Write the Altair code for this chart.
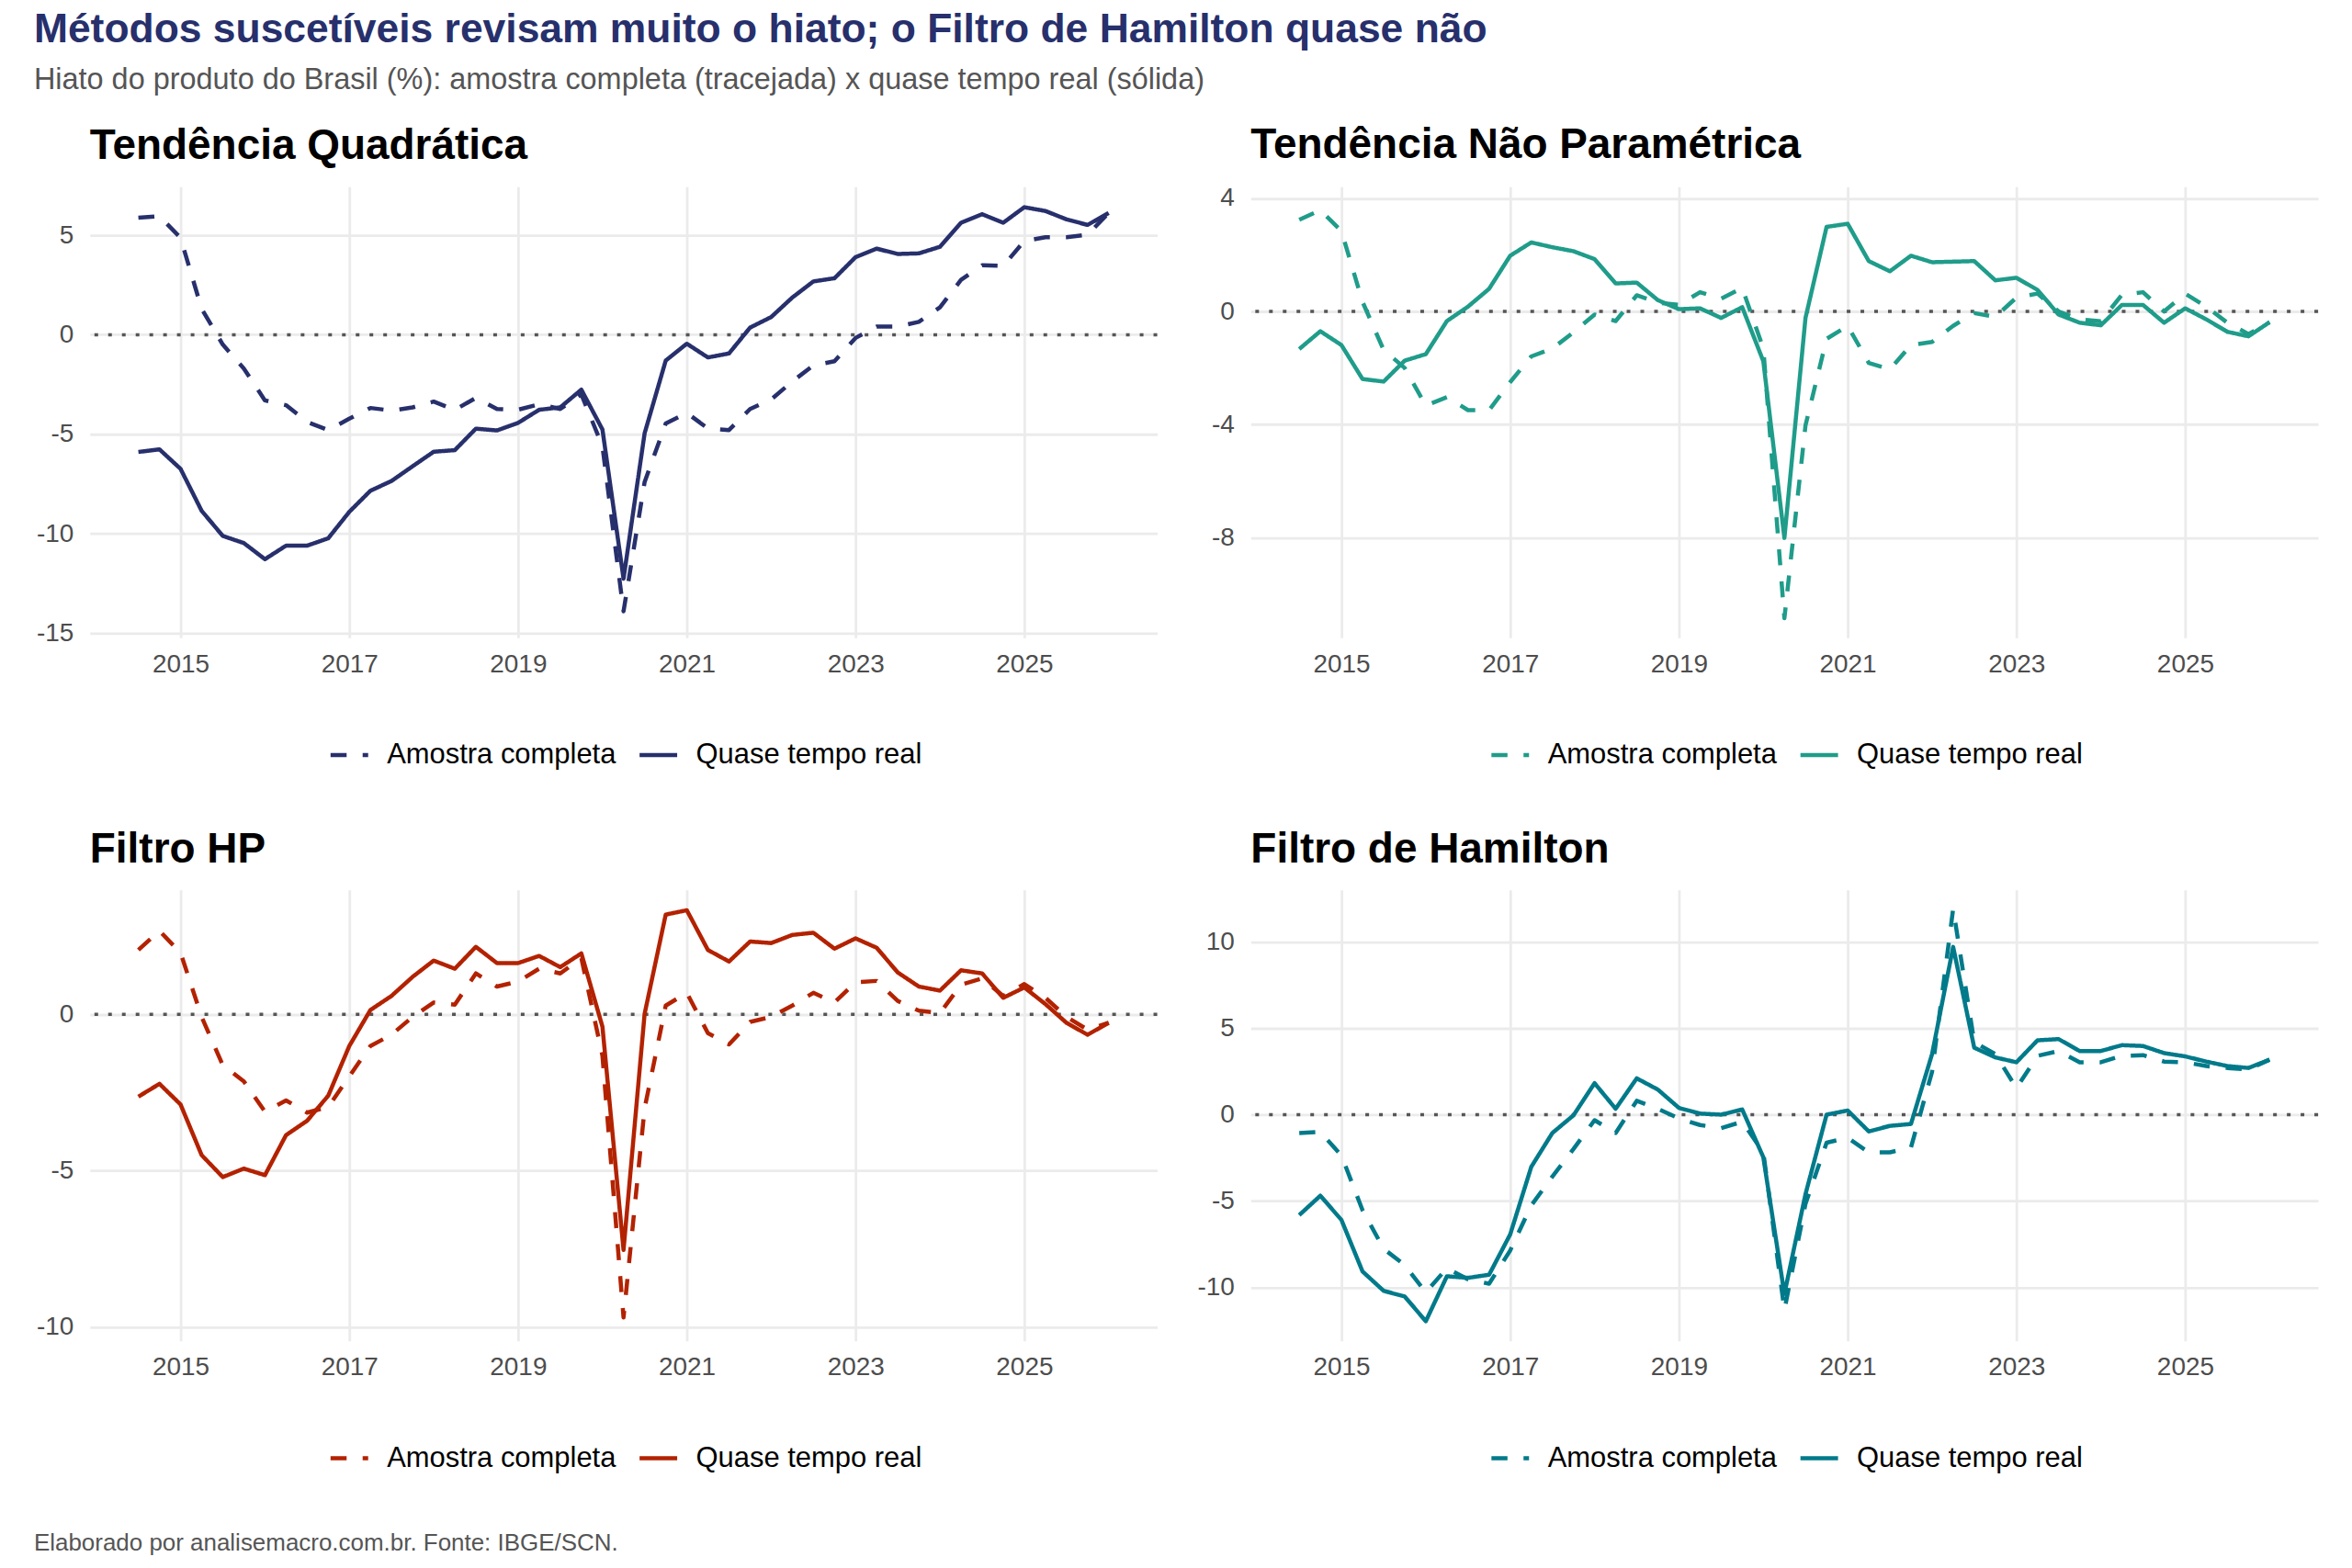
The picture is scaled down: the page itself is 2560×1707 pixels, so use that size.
import altair as alt
import pandas as pd

FONT = "Liberation Sans"
NAVY = "#27306c"

TITULO = "Métodos suscetíveis revisam muito o hiato; o Filtro de Hamilton quase não"
SUBTITULO = "Hiato do produto do Brasil (%): amostra completa (tracejada) x quase tempo real (sólida)"
RODAPE = "Elaborado por analisemacro.com.br. Fonte: IBGE/SCN."

# quarters 2014T3 .. 2026T1
trimestres = [f"{y}-T{q}" for y in range(2014, 2027) for q in range(1, 5)][2:49]
t = [int(s[:4]) + (int(s[-1]) - 1) / 4 for s in trimestres]

# Tendência Quadrática
quad_real = [-5.89, -5.76, -6.74, -8.85, -10.11, -10.47, -11.28, -10.6, -10.6, -10.23, -8.9, -7.84,
             -7.35, -6.61, -5.88, -5.80, -4.72, -4.81, -4.43, -3.77, -3.65, -2.76, -4.76, -12.26,
             -4.95, -1.30, -0.45, -1.14, -0.94, 0.36, 0.89, 1.87, 2.68, 2.84, 3.9, 4.33,
             4.06, 4.09, 4.42, 5.63, 6.06, 5.63, 6.41, 6.22, 5.80, 5.52, 6.12]
quad_comp = [5.88, 5.96, 4.87, 1.3, -0.49, -1.7, -3.3, -3.54, -4.38, -4.79, -4.22, -3.68,
             -3.81, -3.65, -3.36, -3.78, -3.17, -3.73, -3.77, -3.49, -3.73, -3.0, -5.6, -13.9,
             -7.4, -4.46, -3.93, -4.71, -4.79, -3.73, -3.25, -2.35, -1.54, -1.33, -0.16, 0.41,
             0.41, 0.65, 1.38, 2.76, 3.49, 3.46, 4.71, 4.90, 4.90, 5.03, 6.12]

# Tendência Não Paramétrica
np_real = [-1.33, -0.70, -1.19, -2.39, -2.48, -1.74, -1.51, -0.34, 0.17, 0.80, 1.97, 2.44,
           2.27, 2.13, 1.85, 0.99, 1.02, 0.40, 0.08, 0.11, -0.23, 0.15, -1.76, -8.01,
           -0.23, 2.99, 3.10, 1.78, 1.42, 1.97, 1.74, 1.76, 1.78, 1.10, 1.19, 0.76,
           -0.11, -0.40, -0.49, 0.23, 0.23, -0.40, 0.11, -0.28, -0.72, -0.88, -0.38]
np_comp = [3.24, 3.58, 2.84, 0.34, -1.36, -2.0, -3.33, -3.03, -3.49, -3.49, -2.5, -1.59,
           -1.31, -0.74, -0.11, -0.34, 0.57, 0.31, 0.23, 0.68, 0.45, 0.83, -1.31, -10.85,
           -4.03, -0.97, -0.51, -1.82, -2.05, -1.19, -1.08, -0.51, -0.06, -0.19, 0.49, 0.63,
           0.0, -0.28, -0.35, 0.59, 0.68, 0.0, 0.63, 0.17, -0.40, -0.80, -0.38]

# Filtro HP
hp_real = [-2.63, -2.22, -2.88, -4.50, -5.20, -4.93, -5.14, -3.86, -3.40, -2.60, -1.01, 0.14,
           0.59, 1.20, 1.72, 1.46, 2.16, 1.64, 1.64, 1.87, 1.51, 1.95, -0.39, -7.53,
           0.02, 3.19, 3.33, 2.06, 1.69, 2.33, 2.28, 2.54, 2.61, 2.10, 2.43, 2.13,
           1.34, 0.89, 0.76, 1.41, 1.31, 0.53, 0.86, 0.33, -0.27, -0.65, -0.27]
hp_comp = [2.06, 2.67, 1.97, -0.08, -1.62, -2.14, -3.11, -2.75, -3.14, -2.96, -1.98, -1.01,
           -0.65, -0.08, 0.38, 0.31, 1.31, 0.89, 1.05, 1.46, 1.31, 1.8, -1.32, -9.69,
           -3.0, 0.28, 0.69, -0.60, -0.96, -0.24, -0.08, 0.28, 0.69, 0.38, 1.03, 1.07,
           0.43, 0.12, 0.04, 0.95, 1.15, 0.59, 0.97, 0.53, -0.08, -0.49, -0.27]

# Filtro de Hamilton
ham_real = [-5.81, -4.69, -6.09, -9.07, -10.19, -10.52, -11.95, -9.35, -9.44, -9.26, -6.93, -3.02,
            -1.06, -0.04, 1.82, 0.34, 2.10, 1.45, 0.39, 0.06, 0.0, 0.30, -2.46, -10.37,
            -4.6, 0.0, 0.24, -0.97, -0.65, -0.54, 3.50, 9.70, 3.87, 3.31, 3.03, 4.30,
            4.37, 3.68, 3.68, 4.02, 3.97, 3.56, 3.37, 3.07, 2.81, 2.70, 3.18]
ham_comp = [-1.06, -1.0, -2.36, -5.53, -7.76, -8.70, -10.28, -8.88, -9.53, -9.78, -7.86, -5.25,
            -3.58, -1.99, -0.32, -1.06, 0.80, 0.34, -0.22, -0.60, -0.78, -0.41, -2.18, -11.3,
            -5.16, -1.62, -1.34, -2.18, -2.18, -1.90, 2.48, 11.9, 4.2, 3.5, 1.54, 3.40,
            3.68, 3.03, 3.03, 3.40, 3.44, 3.07, 3.03, 2.81, 2.70, 2.62, 3.18]

SERIES = ["Amostra completa", "Quase tempo real"]
W, H = 1164, 492
XDOM = [2013.925, 2026.575]
XTICKS = [2015, 2017, 2019, 2021, 2023, 2025]
LW = 4.5


def painel(titulo, cor, real, comp, yticks, ydom):
    df = pd.DataFrame({
        "t": t + t,
        "v": comp + real,
        "serie": [SERIES[0]] * len(t) + [SERIES[1]] * len(t),
    })
    x = alt.X("t:Q", title=None,
              scale=alt.Scale(domain=XDOM, nice=False, zero=False),
              axis=alt.Axis(values=XTICKS, format="d", labelPadding=15))
    y = alt.Y("v:Q", title=None,
              scale=alt.Scale(domain=ydom, nice=False, zero=False),
              axis=alt.Axis(values=yticks, labelExpr="toString(datum.value)",
                            labelPadding=18, minExtent=60, maxExtent=60))
    zero = alt.Chart(pd.DataFrame({"v": [0]})).mark_rule(
        color="#555555", strokeWidth=3.5, strokeDash=[4, 11]
    ).encode(y=y)
    linhas = alt.Chart(df).mark_line(
        color=cor, strokeWidth=LW, strokeCap="butt", strokeJoin="round"
    ).encode(
        x=x, y=y,
        strokeDash=alt.StrokeDash(
            "serie:N",
            scale=alt.Scale(domain=SERIES, range=[[17.5, 17.5], [1, 0]]),
            legend=alt.Legend(
                title=None, orient="none", legendX=260, legendY=597,
                direction="horizontal", symbolType="stroke", symbolSize=1681,
                symbolStrokeWidth=LW, symbolStrokeColor=cor,
                labelFont=FONT, labelFontSize=31, labelColor="black", labelLimit=0,
                labelOffset=18, columnPadding=16, padding=0,
            ),
        ),
    )
    return alt.layer(zero, linhas).properties(
        width=W, height=H,
        title=alt.TitleParams(titulo, anchor="start", frame="group", font=FONT,
                              fontSize=46, fontWeight="bold", color="black", offset=20),
    )


p1 = painel("Tendência Quadrática", "#27306c", quad_real, quad_comp, [-15, -10, -5, 0, 5], [-15.23, 7.44])
p2 = painel("Tendência Não Paramétrica", "#1f9c8a", np_real, np_comp, [-8, -4, 0, 4], [-11.54, 4.41])
p3 = painel("Filtro HP", "#b32200", hp_real, hp_comp, [-10, -5, 0], [-10.44, 3.98])
p4 = painel("Filtro de Hamilton", "#007a8a", ham_real, ham_comp, [-10, -5, 0, 5, 10], [-13.09, 13.0])


def indep(c):
    return c.resolve_scale(x="independent", y="independent", strokeDash="independent") \
            .resolve_legend(strokeDash="independent")


linha1 = indep(alt.hconcat(p1, p2, spacing=40))
linha2 = indep(alt.hconcat(p3, p4, spacing=40))

rodape = alt.Chart(pd.DataFrame({"c": [RODAPE]})).mark_text(
    align="left", baseline="middle", font=FONT, fontSize=26, color="#555555"
).encode(text="c:N", x=alt.value(-61), y=alt.value(10)).properties(width=800, height=30)

chart = indep(alt.vconcat(linha1, linha2, rodape, spacing=65)).properties(
    title=alt.TitleParams(
        TITULO, subtitle=SUBTITULO, anchor="start", frame="bounds",
        font=FONT, fontSize=44.5, fontWeight="bold", color=NAVY,
        subtitleFont=FONT, subtitleFontSize=32.5, subtitleColor="#555555",
        subtitlePadding=15, offset=31,
    ),
    padding={"left": 37, "top": 8, "right": 35, "bottom": 10},
    background="white",
).configure_view(stroke=None).configure_axis(
    gridColor="#ebebeb", gridWidth=2.8, domain=False, ticks=False,
    labelFont=FONT, labelFontSize=28, labelColor="#4d4d4d",
)

chart.save("out.html", embed_options={"renderer": "svg", "actions": False})
